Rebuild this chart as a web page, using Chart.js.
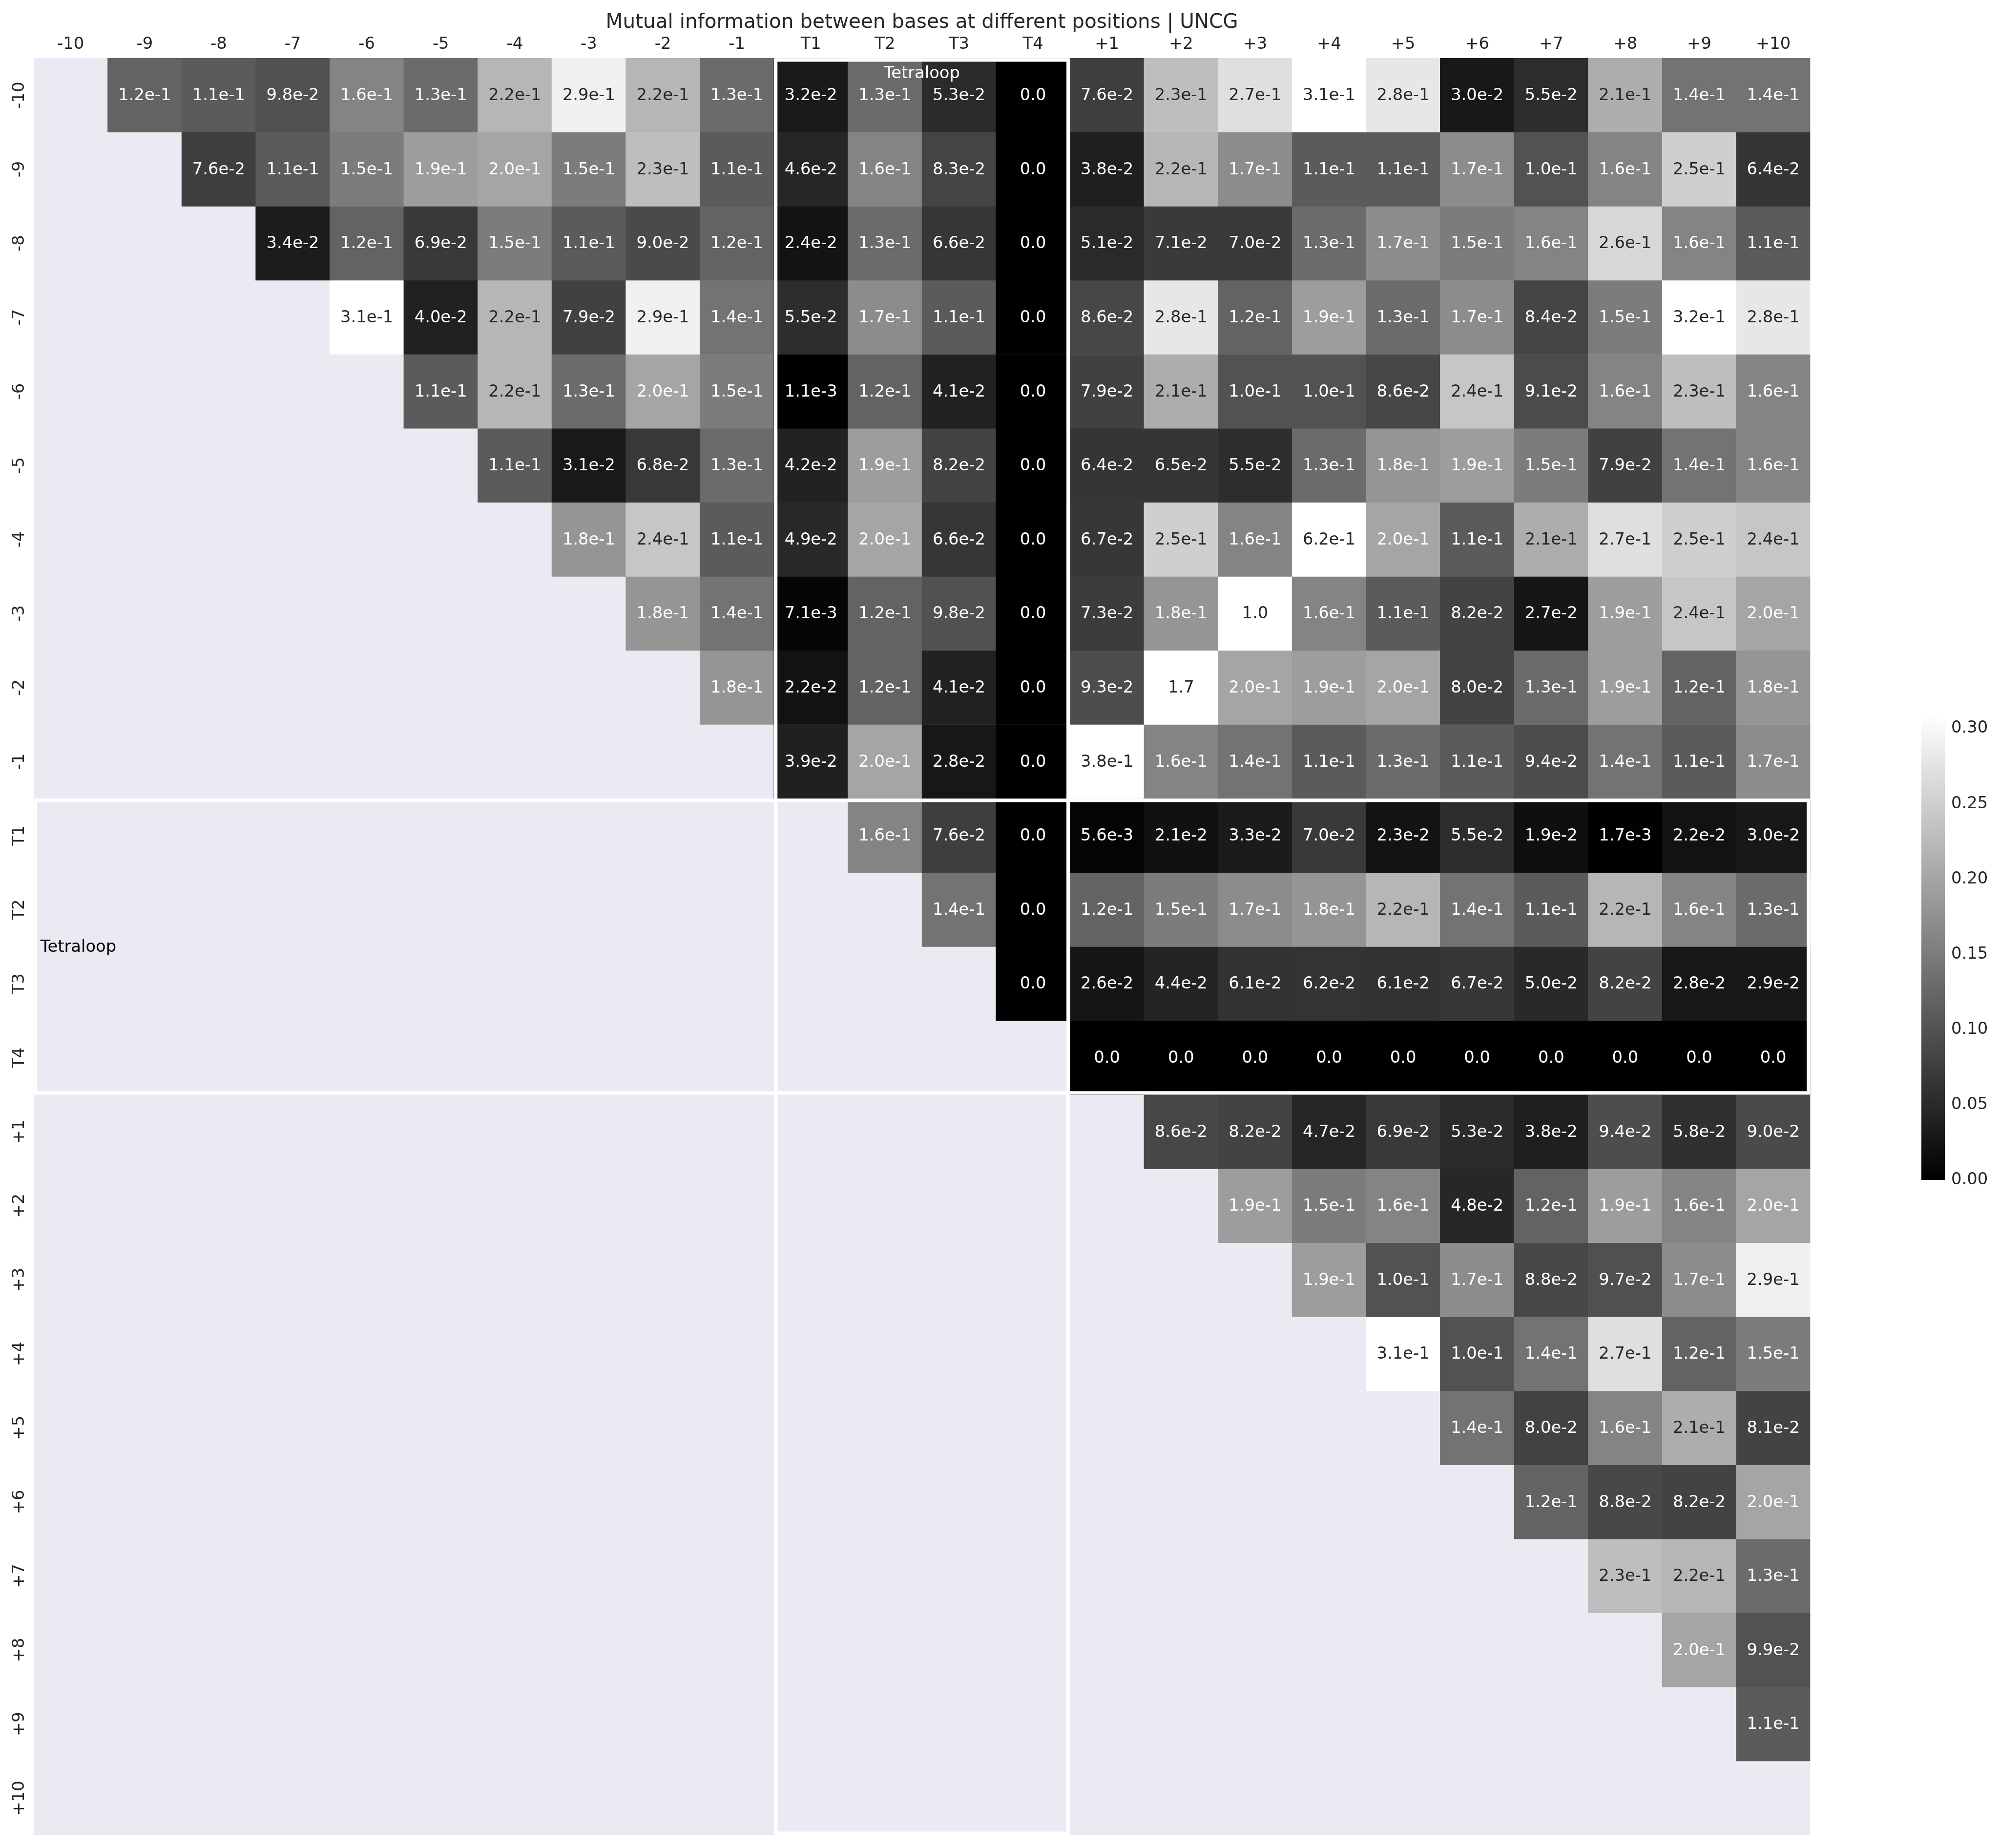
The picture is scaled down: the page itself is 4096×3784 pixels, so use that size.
<!DOCTYPE html>
<html><head><meta charset="utf-8">
<script src="https://cdn.jsdelivr.net/npm/chart.js@4.4.1/dist/chart.umd.min.js"></script>
<style>
html,body{margin:0;padding:0;background:#fff;overflow:hidden}
#wrap{position:relative;width:4096px;height:3784px;background:#fff}
#main{position:absolute;left:0;top:0}
#cbar{position:absolute;left:3900px;top:1400px}
</style></head><body>
<div id="wrap"><canvas id="main" width="4096" height="3784"></canvas><canvas id="cbar" width="196" height="1100"></canvas></div>
<script>
// ---------- DATA ----------
const positions = ['-10','-9','-8','-7','-6','-5','-4','-3','-2','-1','T1','T2','T3','T4','+1','+2','+3','+4','+5','+6','+7','+8','+9','+10'];
const chartTitle = 'Mutual information between bases at different positions | UNCG';
const regionLabel = 'Tetraloop';
// upper triangle: values of each row, starting at the column right after the diagonal
const rowM10 = [0.12,0.11,0.098,0.16,0.13,0.22,0.29,0.22,0.13, 0.032,0.13,0.053,0, 0.076,0.23,0.27,0.31,0.28,0.030,0.055,0.21,0.14,0.14];
const rowM9  = [0.076,0.11,0.15,0.19,0.20,0.15,0.23,0.11, 0.046,0.16,0.083,0, 0.038,0.22,0.17,0.11,0.11,0.17,0.10,0.16,0.25,0.064];
const rowM8  = [0.034,0.12,0.069,0.15,0.11,0.090,0.12, 0.024,0.13,0.066,0, 0.051,0.071,0.070,0.13,0.17,0.15,0.16,0.26,0.16,0.11];
const rowM7  = [0.31,0.040,0.22,0.079,0.29,0.14, 0.055,0.17,0.11,0, 0.086,0.28,0.12,0.19,0.13,0.17,0.084,0.15,0.32,0.28];
const rowM6  = [0.11,0.22,0.13,0.20,0.15, 0.0011,0.12,0.041,0, 0.079,0.21,0.10,0.10,0.086,0.24,0.091,0.16,0.23,0.16];
const rowM5  = [0.11,0.031,0.068,0.13, 0.042,0.19,0.082,0, 0.064,0.065,0.055,0.13,0.18,0.19,0.15,0.079,0.14,0.16];
const rowM4  = [0.18,0.24,0.11, 0.049,0.20,0.066,0, 0.067,0.25,0.16,0.62,0.20,0.11,0.21,0.27,0.25,0.24];
const rowM3  = [0.18,0.14, 0.0071,0.12,0.098,0, 0.073,0.18,1.0,0.16,0.11,0.082,0.027,0.19,0.24,0.20];
const rowM2  = [0.18, 0.022,0.12,0.041,0, 0.093,1.7,0.20,0.19,0.20,0.080,0.13,0.19,0.12,0.18];
const rowM1  = [0.039,0.20,0.028,0, 0.38,0.16,0.14,0.11,0.13,0.11,0.094,0.14,0.11,0.17];
const rowT1  = [0.16,0.076,0, 0.0056,0.021,0.033,0.070,0.023,0.055,0.019,0.0017,0.022,0.030];
const rowT2  = [0.14,0, 0.12,0.15,0.17,0.18,0.22,0.14,0.11,0.22,0.16,0.13];
const rowT3  = [0, 0.026,0.044,0.061,0.062,0.061,0.067,0.050,0.082,0.028,0.029];
const rowT4  = [0,0,0,0,0,0,0,0,0,0];
const rowP1  = [0.086,0.082,0.047,0.069,0.053,0.038,0.094,0.058,0.090];
const rowP2  = [0.19,0.15,0.16,0.048,0.12,0.19,0.16,0.20];
const rowP3  = [0.19,0.10,0.17,0.088,0.097,0.17,0.29];
const rowP4  = [0.31,0.10,0.14,0.27,0.12,0.15];
const rowP5  = [0.14,0.080,0.16,0.21,0.081];
const rowP6  = [0.12,0.088,0.082,0.20];
const rowP7  = [0.23,0.22,0.13];
const rowP8  = [0.20,0.099];
const rowP9  = [0.11];
const rowP10 = [];
const rowValues = [rowM10,rowM9,rowM8,rowM7,rowM6,rowM5,rowM4,rowM3,rowM2,rowM1,rowT1,rowT2,rowT3,rowT4,rowP1,rowP2,rowP3,rowP4,rowP5,rowP6,rowP7,rowP8,rowP9,rowP10];
const colorbarTicks = [0,0.05,0.10,0.15,0.20,0.25,0.30];
const vmin = 0, vmax = 0.309;
const tetraStart = 10, tetraEnd = 14;   // index range of the tetraloop block

// ---------- helpers ----------
const FONT = '"DejaVu Sans", "Liberation Sans", sans-serif';
const S = 0.81;
const fs = 41.67 * S;          // 10pt @300dpi scaled
const titleFs = 50 * S;        // 12pt @300dpi scaled
const TXT = '#262626';
function norm(v){ return Math.max(0, Math.min(1, (v - vmin) / (vmax - vmin))); }
function grayOf(v){ const idx = Math.min(255, Math.floor(norm(v) * 256)); return idx; }
function colorOf(v){ const g = grayOf(v); return `rgb(${g},${g},${g})`; }
function textColorOf(v){
  const c = grayOf(v) / 255;
  const lin = c <= 0.03928 ? c / 12.92 : Math.pow((c + 0.055) / 1.055, 2.4);
  return lin > 0.408 ? TXT : '#ffffff';
}
function fmt(v){
  if (v === 0 || v >= 1) return v.toFixed(1);
  return v.toExponential(1);
}
function cellValue(r, c){ return c > r ? rowValues[r][c - r - 1] : null; }

// ---------- datasets (one per row, floating bars on the y scale) ----------
const datasets = positions.map((_, r) => ({
  label: positions[r],
  data: positions.map((__, c) => c > r ? [r, r + 1] : null),
  cellValues: positions.map((__, c) => cellValue(r, c)),
  backgroundColor: positions.map((__, c) => c > r ? colorOf(cellValue(r, c)) : 'rgba(0,0,0,0)'),
  borderWidth: 0,
  barPercentage: 1,
  categoryPercentage: 1,
  grouped: false
}));

const decor = {
  id: 'decor',
  beforeDatasetsDraw(chart){
    const {ctx, chartArea: a} = chart;
    ctx.save();
    ctx.fillStyle = '#EAEAF2';
    ctx.fillRect(a.left, a.top, a.right - a.left, a.bottom - a.top);
    ctx.restore();
  },
  afterDatasetsDraw(chart){
    const {ctx, chartArea: a, scales: {x, y}} = chart;
    ctx.save();
    // annotations
    ctx.font = `${fs}px ${FONT}`;
    ctx.textAlign = 'center';
    ctx.textBaseline = 'alphabetic';
    chart.data.datasets.forEach((ds, r) => {
      const meta = chart.getDatasetMeta(r);
      meta.data.forEach((el, c) => {
        const v = ds.cellValues[c];
        if (v === null || v === undefined) return;
        const cy = y.getPixelForValue(r + 0.5);
        ctx.fillStyle = textColorOf(v);
        ctx.fillText(fmt(v), el.x, cy + 10.3);
      });
    });
    // white block outlines (inner stroke)
    const w = (a.right - a.left) / positions.length;
    const colX = i => x.getPixelForTick(i) - w / 2;
    const lw = 9 * S;
    ctx.strokeStyle = '#ffffff';
    ctx.lineWidth = lw;
    const x0 = colX(tetraStart), x1 = colX(tetraEnd - 1) + w;
    ctx.strokeRect(x0 + lw/2, a.top + lw/2, x1 - x0 - lw, a.bottom - a.top - lw);
    const y0 = y.getPixelForValue(tetraStart), y1 = y.getPixelForValue(tetraEnd);
    ctx.strokeRect(a.left + lw/2, y0 + lw/2, a.right - a.left - lw, y1 - y0 - lw);
    // region labels
    ctx.font = `${fs}px ${FONT}`;
    ctx.fillStyle = '#ffffff';
    ctx.textAlign = 'center';
    ctx.fillText(regionLabel, (x0 + x1) / 2, a.top + 40.5);
    ctx.fillStyle = '#000000';
    ctx.textAlign = 'left';
    ctx.fillText(regionLabel, a.left + 13.7, (y0 + y1) / 2 + 10.3);
    // x tick labels (top)
    ctx.fillStyle = TXT;
    ctx.textAlign = 'center';
    positions.forEach((lab, i) => ctx.fillText(lab, x.getPixelForTick(i), 100.4));
    // y tick labels (rotated)
    positions.forEach((lab, r) => {
      ctx.save();
      ctx.translate(48.6, y.getPixelForValue(r + 0.5));
      ctx.rotate(-Math.PI / 2);
      ctx.textAlign = 'center';
      ctx.fillText(lab, 0, 0);
      ctx.restore();
    });
    // title
    ctx.font = `${titleFs}px ${FONT}`;
    ctx.textAlign = 'center';
    ctx.fillText(chartTitle, (a.left + a.right) / 2, 56.7);
    ctx.restore();
  }
};

new Chart(document.getElementById('main'), {
  type: 'bar',
  data: { labels: positions, datasets },
  options: {
    responsive: false, animation: false, devicePixelRatio: 1,
    layout: { padding: { left: 68.9, top: 119.1, right: 4096 - 3707.4, bottom: 3784 - 3757.6 } },
    plugins: { legend: { display: false }, tooltip: { enabled: false }, title: { display: false } },
    scales: {
      x: { type: 'category', display: false, offset: true, grid: { display: false } },
      y: { type: 'linear', display: false, min: 0, max: positions.length, reverse: true }
    }
  },
  plugins: [decor]
});

// ---------- colorbar ----------
new Chart(document.getElementById('cbar'), {
  type: 'bar',
  data: { labels: ['cb'], datasets: [{
    data: [[vmin, vmax]],
    borderWidth: 0, barPercentage: 1, categoryPercentage: 1,
    backgroundColor: (c) => {
      const area = c.chart.chartArea;
      if (!area) return '#808080';
      const g = c.chart.ctx.createLinearGradient(0, area.bottom, 0, area.top);
      g.addColorStop(0, '#000000'); g.addColorStop(1, '#ffffff');
      return g;
    }
  }]},
  options: {
    responsive: false, animation: false, devicePixelRatio: 1,
    layout: { padding: { left: 35, top: 64, right: 0, bottom: 84 } },
    plugins: { legend: { display: false }, tooltip: { enabled: false } },
    scales: {
      x: { display: false },
      y: {
        position: 'right', min: vmin, max: vmax,
        afterBuildTicks: s => { s.ticks = colorbarTicks.map(v => ({ value: v })); },
        afterFit: s => { s.width = 113; },
        ticks: { callback: v => Number(v).toFixed(2), font: { family: FONT, size: fs }, color: TXT, padding: 13 },
        grid: { display: false, drawTicks: false },
        border: { display: false }
      }
    }
  }
});
</script>
</body></html>
